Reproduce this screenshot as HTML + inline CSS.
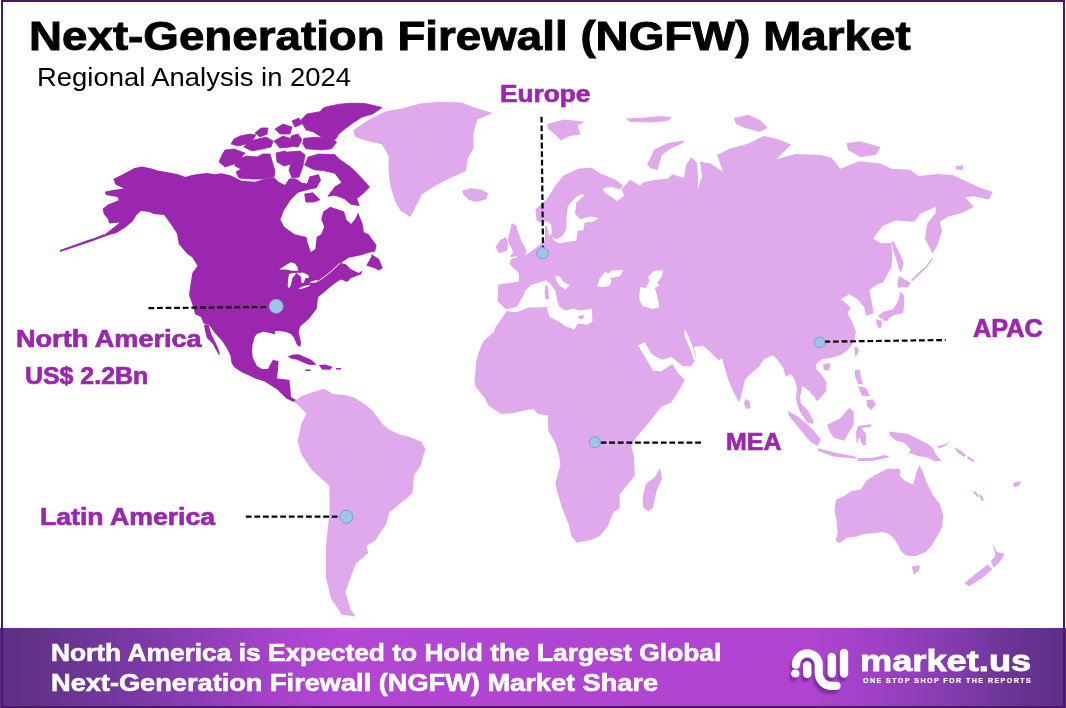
<!DOCTYPE html>
<html><head><meta charset="utf-8"><style>
html,body{margin:0;padding:0;}
body{width:1066px;height:708px;position:relative;overflow:hidden;background:#fff;font-family:"Liberation Sans",sans-serif;}
#frame{position:absolute;left:1px;top:0;width:1064px;height:708px;box-sizing:border-box;border:2px solid #4B1769;z-index:5;}
svg{position:absolute;left:0;top:0;}
.t{position:absolute;white-space:nowrap;line-height:1;transform-origin:0 0;}
.b{font-weight:bold;}
.p{color:#9B27AF;}
#banner{position:absolute;left:0;top:628px;width:1066px;height:80px;background:linear-gradient(90deg,#5B2F86 0%,#63338C 3.75%,#7D39A8 14%,#A843CC 26.3%,#B046D2 31%,#B044D0 76%,#9E41C5 82%,#853CB0 89%,#6A3496 95%,#5C2F87 100%);}
</style></head><body>
<div id="frame"></div>
<div id="banner"></div>
<svg width="1066" height="708" viewBox="0 0 1066 708">
<path fill="#9B27AF" d="M103.8,235.0 L113.3,227.8 L119.7,222.5 L109.1,223.6 L108.0,219.3 L103.8,214.0 L102.7,208.7 L108.0,204.5 L118.6,200.3 L117.6,197.1 L105.9,195.0 L104.8,191.8 L114.4,189.7 L123.9,188.6 L115.4,184.4 L113.3,179.1 L123.9,173.8 L134.5,167.9 L141.9,166.4 L151.5,168.5 L157.8,170.6 L170.5,172.7 L178.0,174.3 L185.4,177.0 L192.0,175.0 L200.0,173.8 L207.0,173.0 L215.0,174.3 L221.4,173.3 L230.9,175.4 L241.5,180.7 L255.3,181.7 L265.8,178.6 L274.3,177.5 L278.6,181.7 L284.9,184.9 L289.2,178.6 L295.5,178.6 L301.9,182.8 L307.0,183.6 L309.4,176.6 L318.6,174.3 L321.0,180.1 L316.3,188.2 L309.4,189.4 L297.8,192.8 L290.8,199.8 L283.9,210.2 L280.4,219.5 L284.1,226.7 L294.5,234.2 L306.4,237.1 L307.8,243.0 L310.8,252.0 L315.3,249.0 L316.7,237.1 L321.2,234.2 L324.2,226.7 L321.2,219.3 L323.3,211.4 L330.2,206.7 L344.1,211.4 L346.4,219.5 L351.1,224.1 L355.7,218.3 L358.0,212.5 L362.6,224.1 L363.8,232.0 L368.6,234.2 L372.7,240.0 L376.5,245.1 L375.2,251.4 L368.8,252.7 L361.2,255.3 L348.5,257.8 L340.9,262.9 L346.0,264.2 L351.0,269.2 L358.7,273.0 L362.5,270.5 L361.2,274.3 L351.0,278.1 L347.2,282.0 L340.9,279.4 L333.2,284.5 L325.6,290.9 L318.0,297.2 L316.7,308.7 L309.0,318.8 L300.2,326.5 L298.7,332.0 L300.0,338.0 L301.0,343.0 L300.3,347.0 L297.0,345.0 L294.0,338.0 L291.0,334.0 L286.0,332.0 L280.0,331.0 L275.0,331.0 L274.9,334.6 L270.0,333.0 L263.0,331.7 L257.0,334.0 L254.6,337.0 L252.5,345.0 L252.1,352.0 L252.9,358.0 L257.0,366.0 L262.0,369.0 L268.0,369.0 L271.0,363.0 L273.0,359.7 L278.5,361.3 L278.0,370.0 L277.0,378.4 L283.0,379.0 L289.4,380.0 L290.5,390.0 L291.0,397.0 L296.0,400.0 L301.8,403.2 L292.5,401.6 L286.3,398.5 L277.0,389.2 L270.0,385.0 L264.6,381.5 L255.2,378.4 L248.0,375.0 L241.3,372.1 L234.0,367.0 L231.5,363.0 L230.5,356.0 L227.5,349.5 L222.5,341.5 L214.8,333.0 L210.0,326.0 L203.6,323.6 L201.0,316.9 L195.1,314.3 L192.5,305.0 L189.0,294.7 L190.7,282.9 L192.4,272.7 L197.5,265.9 L192.4,257.5 L187.3,254.1 L178.8,243.9 L177.1,233.7 L170.3,223.6 L164.2,215.1 L153.6,214.0 L149.3,211.9 L140.9,210.9 L136.6,215.1 L132.4,221.5 L125.0,227.8 L116.5,233.1 L109.1,235.0 L90.0,242.0 L60.0,251.5 L60.0,250.0 L88.0,240.0ZM60.0,250.0 L90.0,240.0 L104.0,234.0 L104.0,236.0 L90.0,242.0 L60.0,252.0ZM204.0,325.0 L205.3,332.1 L206.9,338.0 L212.9,344.0 L215.4,349.1 L218.8,354.8 L220.0,354.0 L217.8,347.5 L214.5,340.5 L211.5,334.5 L209.8,329.0 L208.5,324.5ZM287.9,356.6 L293.0,354.6 L298.7,354.3 L305.0,357.0 L311.2,359.7 L316.6,364.4 L312.0,365.0 L308.0,364.4 L302.0,362.0 L297.2,359.7 L291.0,358.5ZM318.9,365.1 L325.0,364.6 L332.9,367.0 L330.0,369.8 L322.0,369.5ZM305.0,369.5 L311.0,369.5 L310.0,371.0 L305.5,371.0ZM336.0,368.0 L341.0,368.0 L341.0,369.5 L336.0,369.5ZM371.4,254.0 L379.0,259.0 L382.8,268.0 L379.0,270.5 L373.9,268.0 L366.3,265.4 L371.4,256.5Z"/>
<path fill="#fff" d="M279.2,269.4 L286.4,264.8 L291.0,262.2 L295.0,263.5 L297.6,267.5 L298.2,270.8 L291.7,270.8 L286.4,269.4ZM289.0,274.0 L293.6,272.7 L296.3,273.4 L292.3,278.0 L291.0,284.5 L289.0,288.5 L287.7,285.9 L288.1,280.0ZM296.3,272.7 L304.1,272.7 L308.7,275.4 L308.7,278.0 L305.5,278.0 L303.5,283.2 L301.5,282.6 L300.9,276.7ZM298.2,288.5 L304.1,285.9 L310.7,284.5 L308.7,286.5 L300.9,289.1ZM310.0,281.9 L316.0,280.0 L318.9,280.9 L316.0,282.6 L310.7,282.9ZM318.9,280.3 L330.0,272.0 L340.0,262.6 L340.5,263.3 L330.0,273.0 L318.9,281.2Z"/>
<path fill="#9B27AF" stroke="#9B27AF" stroke-width="0.8" stroke-linejoin="round" d="M300.6,120.2 L306.9,113.9 L319.7,111.8 L323.9,107.5 L337.7,104.4 L348.3,103.3 L364.2,103.3 L382.2,107.5 L372.6,113.9 L362.0,117.1 L353.6,122.4 L345.1,128.7 L338.7,134.0 L335.6,139.3 L321.8,137.2 L313.3,131.9 L305.9,129.8ZM303.8,138.3 L316.5,137.2 L332.4,138.3 L336.6,142.5 L331.3,148.8 L321.8,149.9 L305.9,148.8 L302.7,143.6ZM304.7,165.0 L308.2,157.0 L318.6,154.1 L334.8,154.6 L339.5,159.3 L351.1,167.4 L359.2,175.5 L369.6,187.1 L362.6,194.0 L356.8,198.6 L359.2,205.6 L351.1,204.4 L344.1,198.6 L334.8,195.2 L327.9,196.3 L334.8,187.1 L341.8,182.4 L334.8,173.2 L324.4,170.8 L314.0,169.7ZM304.7,194.0 L312.8,192.8 L319.8,199.8 L314.0,202.1 L305.9,202.1ZM219.0,162.0 L222.0,155.0 L225.0,150.0 L234.0,149.0 L245.0,153.0 L240.0,159.0 L234.0,164.0 L225.0,167.0ZM235.0,160.0 L247.0,156.0 L257.0,157.0 L263.0,154.0 L270.0,154.0 L272.0,161.0 L275.0,171.0 L274.0,177.0 L262.0,179.0 L251.0,179.0 L239.0,178.0 L236.0,172.0 L241.0,169.0 L235.0,166.0ZM231.0,144.0 L234.0,139.0 L240.0,136.0 L250.0,134.0 L256.0,135.0 L252.0,141.0 L246.0,144.0 L238.0,146.0ZM244.0,147.0 L250.0,141.0 L258.0,139.0 L266.0,137.0 L273.0,141.0 L271.0,147.0 L262.0,149.0 L252.0,151.0ZM255.0,133.0 L261.0,128.0 L268.0,128.0 L267.0,134.0 L260.0,137.0ZM274.0,141.0 L283.0,136.0 L292.0,139.0 L291.0,147.0 L280.0,148.0ZM275.0,129.0 L283.0,124.0 L292.0,127.0 L290.0,134.0 L280.0,134.0ZM276.0,153.0 L285.0,151.0 L292.0,155.0 L291.0,164.0 L284.0,166.0 L277.0,162.0ZM288.0,152.0 L300.0,151.0 L305.0,155.0 L303.0,166.0 L299.0,177.0 L292.0,178.0 L289.0,170.0 L292.0,161.0ZM291.0,136.0 L298.0,134.0 L302.0,140.0 L298.0,147.0 L291.0,146.0ZM292.0,121.0 L299.0,118.0 L302.0,124.0 L295.0,127.0Z"/>
<path fill="#DFA9EC" d="M353.3,130.3 L368.6,119.8 L385.8,111.2 L402.9,108.3 L420.1,103.6 L439.2,101.7 L462.0,102.6 L471.6,106.4 L492.6,113.1 L477.3,119.8 L473.5,133.1 L473.5,148.4 L467.8,157.9 L465.9,171.3 L452.5,177.0 L437.3,184.6 L422.0,194.2 L416.3,205.6 L410.6,217.0 L401.0,211.3 L395.3,201.8 L390.5,186.5 L388.6,171.3 L388.6,156.0 L382.0,144.6 L366.7,140.8 L355.3,137.0ZM462.2,190.7 L470.9,188.2 L480.9,189.5 L488.4,193.2 L485.9,199.4 L475.9,201.9 L468.4,199.4 L463.4,194.5ZM294.1,401.2 L302.0,396.0 L311.8,392.4 L324.1,388.8 L333.0,394.1 L344.0,395.0 L354.1,397.6 L363.0,403.0 L371.8,410.0 L382.4,424.1 L390.0,430.0 L400.0,434.7 L410.0,437.0 L421.2,441.8 L425.4,448.8 L423.0,457.0 L421.2,464.7 L414.1,475.3 L412.4,493.0 L406.0,499.0 L400.0,503.5 L389.4,512.4 L385.9,524.7 L380.0,533.0 L375.3,540.6 L366.5,545.9 L368.2,553.0 L355.9,563.5 L350.6,577.7 L345.3,591.8 L350.6,609.4 L355.9,616.5 L341.8,614.7 L331.2,598.8 L325.9,577.7 L325.9,545.9 L329.4,514.1 L329.4,485.9 L311.8,470.0 L301.2,454.1 L297.6,441.8 L301.2,424.1 L306.5,413.5ZM507.4,309.5 L505.0,308.5 L497.5,301.0 L498.3,284.5 L510.0,283.0 L519.3,281.5 L518.5,272.5 L509.5,264.3 L511.0,259.0 L520.0,256.0 L524.0,256.0 L532.5,250.4 L539.6,244.8 L545.0,240.0 L545.0,221.0 L549.0,222.0 L552.3,233.5 L548.0,220.7 L542.4,223.6 L536.7,220.7 L535.3,209.4 L546.6,199.6 L556.5,184.0 L563.6,175.5 L579.1,168.5 L591.8,167.8 L598.9,172.7 L615.8,179.8 L622.9,185.4 L617.2,193.9 L630.0,179.8 L640.0,185.4 L643.0,182.6 L655.0,180.0 L668.0,178.4 L672.4,174.2 L684.0,178.0 L686.0,165.0 L691.4,157.2 L697.0,163.0 L698.0,175.0 L697.8,189.0 L702.0,176.3 L699.9,161.4 L710.5,163.6 L723.2,172.0 L716.9,155.1 L729.6,148.7 L748.6,143.4 L763.5,136.0 L778.3,139.2 L791.0,144.5 L776.2,159.3 L795.3,154.0 L820.7,155.1 L831.8,158.1 L840.3,168.7 L859.3,161.3 L880.5,163.4 L891.1,168.7 L910.2,169.8 L918.6,176.1 L937.7,174.0 L952.5,175.1 L980.1,187.8 L992.8,192.0 L988.6,199.4 L973.7,196.3 L965.3,197.3 L973.7,206.9 L961.0,213.2 L948.3,216.4 L939.8,221.7 L942.0,230.2 L937.7,245.0 L932.4,253.5 L925.0,238.6 L927.1,223.8 L935.6,213.2 L935.6,206.9 L920.8,213.2 L914.4,221.7 L895.3,220.6 L882.6,225.9 L873.1,238.6 L880.5,242.9 L891.1,242.9 L892.4,253.6 L891.5,267.1 L883.0,282.4 L877.0,284.4 L870.2,289.5 L869.3,290.3 L872.7,307.3 L873.6,313.2 L865.9,315.8 L864.2,307.3 L860.0,302.2 L857.6,299.3 L849.2,294.2 L840.7,299.3 L847.5,304.4 L850.8,307.8 L847.5,312.9 L852.5,323.1 L855.9,331.5 L854.2,341.7 L847.5,350.2 L840.4,355.2 L831.5,357.8 L822.6,359.1 L816.2,364.1 L816.2,369.2 L821.3,374.3 L826.4,381.9 L826.4,390.8 L818.8,399.7 L816.2,401.0 L815.0,397.2 L808.6,390.8 L802.3,385.7 L800.0,397.0 L801.0,403.5 L808.6,411.2 L813.7,421.3 L812.4,423.9 L807.3,422.6 L799.7,411.2 L797.2,403.5 L795.9,398.5 L797.2,388.3 L794.6,379.4 L790.8,374.3 L785.7,376.8 L783.2,368.0 L776.8,359.1 L773.0,355.2 L764.1,359.1 L759.1,366.7 L751.4,373.0 L745.1,379.4 L740.0,399.7 L739.2,402.4 L733.5,392.2 L727.8,378.6 L723.3,362.8 L722.2,358.3 L718.8,360.5 L714.3,356.0 L708.6,350.4 L703.0,345.8 L693.9,347.0 L696.2,358.3 L691.7,366.2 L682.6,366.2 L671.3,357.1 L660.0,362.0 L640.0,360.0 L610.0,340.0 L595.0,326.0 L592.0,323.5 L578.6,320.5 L574.0,315.0 L565.0,311.5 L556.0,305.5 L551.0,307.5 L540.0,307.0 L525.0,308.5 L516.0,312.0ZM507.4,310.3 L520.9,308.6 L546.4,306.9 L549.7,317.0 L563.3,323.8 L574.0,329.5 L578.6,322.0 L592.1,322.0 L600.0,330.0 L640.0,345.0 L660.0,372.0 L672.4,363.9 L678.1,373.0 L684.9,379.8 L679.2,389.9 L671.3,402.4 L661.7,406.4 L654.9,414.9 L648.1,423.4 L638.0,435.3 L634.6,440.0 L631.5,446.8 L634.0,457.0 L634.9,475.6 L628.1,484.1 L619.7,494.2 L619.7,507.8 L612.9,512.9 L607.8,526.4 L599.3,536.6 L590.8,540.0 L576.4,542.5 L571.4,536.6 L568.8,524.7 L562.0,507.8 L557.0,490.8 L555.3,482.4 L556.2,480.0 L560.4,464.8 L559.0,454.9 L554.8,442.2 L548.4,430.9 L547.7,415.3 L537.8,413.9 L533.6,409.0 L523.7,410.4 L512.4,413.2 L501.1,413.9 L488.4,405.4 L484.1,397.0 L475.7,387.1 L474.3,381.4 L475.2,374.7 L476.0,362.8 L478.6,352.6 L483.6,340.8 L493.8,332.3 L495.5,327.2 L501.4,318.7ZM660.0,468.0 L662.0,479.0 L657.0,489.2 L652.7,507.8 L648.5,511.2 L643.4,507.8 L642.5,497.6 L645.9,484.1 L655.3,476.4ZM511.8,223.2 L516.0,225.0 L518.1,231.7 L521.0,240.0 L526.6,250.8 L524.5,257.1 L516.0,256.5 L509.7,257.1 L513.0,252.0 L511.8,248.6 L507.5,240.2 L509.7,231.7ZM500.0,240.0 L506.0,237.0 L508.0,244.0 L507.0,251.0 L499.0,253.0 L495.5,247.0ZM547.5,124.0 L564.0,119.5 L585.0,121.8 L577.5,125.5 L580.5,134.5 L570.0,136.0 L561.0,140.5 L553.5,133.0 L547.5,128.5ZM647.0,163.6 L649.6,160.0 L654.0,149.5 L668.0,143.0 L684.0,140.5 L683.0,143.0 L670.0,149.0 L661.8,155.1 L657.5,169.9 L650.0,168.0ZM733.8,118.0 L748.0,114.8 L760.0,120.0 L767.7,128.0 L760.0,131.8 L745.0,128.0 L736.0,124.0ZM626.0,118.5 L645.0,117.5 L660.0,116.0 L672.0,117.0 L668.0,121.0 L650.0,122.5 L630.0,122.0ZM846.6,143.0 L860.0,141.2 L880.5,147.0 L876.0,155.0 L860.0,157.0 L848.0,150.0ZM955.7,166.0 L963.1,165.5 L963.0,169.8 L956.0,169.5ZM891.6,240.8 L894.0,242.0 L899.0,252.0 L903.5,262.6 L902.5,268.0 L900.5,272.5 L898.0,266.0 L896.6,260.6 L892.6,248.8ZM911.0,280.0 L918.0,273.0 L926.0,266.0 L932.0,258.0 L933.0,259.0 L927.0,267.0 L919.0,275.0 L912.0,281.5ZM899.0,275.9 L904.1,279.3 L910.8,282.7 L907.5,287.8 L902.4,286.9 L898.1,287.8 L897.3,284.4ZM899.8,291.2 L904.1,295.4 L904.1,305.6 L903.2,313.2 L893.9,314.9 L890.5,317.5 L885.4,319.2 L880.3,318.3 L877.8,315.8 L883.7,311.5 L892.2,309.8 L895.6,305.6 L899.0,298.8ZM876.1,319.2 L882.0,320.8 L881.2,327.6 L878.6,328.5 L876.1,322.5ZM882.9,318.0 L888.8,317.5 L888.0,320.8 L883.0,320.8ZM854.2,346.8 L858.0,347.4 L858.5,352.0 L855.5,357.0ZM823.0,364.0 L830.4,363.3 L829.0,370.7 L824.0,370.0ZM745.0,399.0 L749.5,401.0 L750.6,408.0 L746.0,409.0 L744.0,404.0ZM788.0,411.0 L797.6,416.3 L812.4,429.0 L820.9,439.6 L817.7,446.0 L810.3,441.7 L799.7,429.0 L789.1,416.3ZM817.7,448.1 L833.6,452.3 L854.8,456.6 L856.9,458.7 L833.6,456.6 L818.8,451.3ZM827.2,424.8 L840.0,418.4 L849.5,407.8 L853.7,412.1 L853.7,424.8 L848.4,433.3 L844.2,440.7 L833.6,437.5 L829.3,431.1ZM858.0,425.9 L871.5,424.2 L870.4,427.0 L861.4,428.1 L865.9,433.8 L865.9,445.0 L862.5,445.0 L859.1,437.1 L856.9,445.0 L855.8,432.6ZM854.8,369.7 L860.0,370.0 L861.0,378.0 L863.3,384.5 L858.0,384.0 L855.0,376.0ZM866.4,400.0 L873.0,399.3 L876.0,405.0 L871.0,410.0 L867.0,406.0ZM858.0,386.0 L866.0,388.0 L870.0,396.0 L862.0,396.0ZM889.5,431.5 L897.4,432.6 L907.5,433.8 L918.8,439.4 L927.8,443.9 L933.4,448.4 L935.7,454.0 L941.3,460.8 L935.7,461.4 L927.8,457.4 L918.8,456.3 L909.8,452.9 L907.5,455.2 L910.9,449.5 L904.2,442.8 L896.3,440.5 L892.9,438.3 L889.5,434.9ZM936.8,446.2 L945.8,443.9 L949.2,441.7 L946.9,445.0 L939.0,448.4ZM858.0,458.0 L872.0,458.0 L885.0,455.0 L890.0,457.0 L872.0,461.0 L858.0,461.0ZM835.8,499.9 L846.0,495.0 L851.0,491.0 L860.7,489.6 L866.6,480.5 L876.0,474.5 L887.8,468.4 L900.3,469.2 L900.0,476.0 L905.0,481.0 L913.0,484.5 L917.2,470.4 L919.5,465.2 L923.0,472.0 L926.3,481.7 L933.1,495.2 L939.9,504.3 L943.2,515.6 L942.1,526.9 L938.0,535.0 L932.0,545.0 L926.0,552.0 L915.0,556.3 L906.0,555.5 L901.0,551.0 L898.0,545.0 L893.5,538.0 L888.0,533.5 L882.0,532.0 L875.0,533.3 L865.0,533.8 L856.0,536.8 L847.0,537.4 L839.2,543.3 L835.8,540.5 L837.5,533.0 L837.0,524.0 L834.5,510.0ZM911.6,566.5 L919.5,565.3 L919.5,569.9 L913.8,574.4ZM992.4,542.9 L997.0,552.2 L1004.8,553.7 L1000.1,561.5 L993.9,567.7 L990.8,561.5 L995.5,555.3ZM964.4,583.2 L975.3,573.9 L987.7,564.6 L992.4,569.3 L981.5,578.6 L969.1,586.3ZM954.0,447.0 L960.0,450.0 L966.0,455.0 L964.0,457.0 L957.0,452.0ZM968.0,456.0 L975.0,461.0 L973.0,462.0 L967.0,458.0ZM979.0,494.0 L982.0,496.0 L984.0,501.0 L981.0,500.0ZM975.0,491.0 L979.0,496.0 L977.0,497.0 L973.0,492.0ZM1013.0,483.0 L1021.0,481.0 L1019.0,486.0 L1014.0,487.0Z"/>
<path fill="#fff" d="M506.6,309.5 L516.9,306.7 L522.5,297.3 L525.3,290.8 L531.0,285.1 L539.4,282.3 L546.0,280.4 L550.7,284.2 L555.3,290.8 L557.2,300.1 L559.1,306.7 L565.7,310.5 L573.2,308.6 L579.7,310.5 L587.2,309.5 L591.9,308.6 L592.4,321.7 L587.2,324.5 L576.9,323.6 L575.0,329.2 L565.7,326.4 L558.2,320.8 L550.7,317.0 L551.6,309.5 L550.7,306.7 L537.5,307.2 L528.1,307.6 L516.9,312.3 L508.4,311.4ZM555.3,275.8 L560.0,276.7 L563.8,282.3 L569.4,285.1 L565.7,289.4 L560.0,286.1 L556.3,280.4ZM597.3,286.4 L599.5,279.0 L605.2,271.7 L609.7,274.5 L611.4,281.3 L609.7,285.8 L604.1,287.0ZM607.5,274.0 L612.0,270.5 L623.3,270.0 L620.0,276.0 L612.0,277.9ZM639.1,298.2 L640.2,287.0 L645.9,288.1 L649.3,281.3 L648.1,276.8 L653.8,271.1 L663.4,270.0 L661.7,276.8 L657.2,282.4 L659.4,285.8 L654.9,288.1 L657.2,296.0 L659.4,307.3 L652.7,309.0 L642.5,306.2ZM638.0,345.4 L644.7,342.0 L651.5,353.9 L661.7,359.8 L668.5,358.1 L671.3,357.1 L682.6,366.2 L691.7,366.2 L696.2,358.3 L700.0,360.0 L700.0,385.0 L684.9,379.8 L678.1,373.0 L672.4,363.9 L668.5,364.0 L661.7,370.8 L653.2,370.8 L648.0,362.0ZM685.5,330.0 L689.0,338.0 L692.5,346.0 L695.0,355.0 L696.2,360.0 L693.5,360.0 L691.5,352.0 L688.0,344.0 L684.5,336.0 L684.5,330.0ZM556.5,239.1 L562.2,236.3 L566.4,229.2 L566.4,219.3 L567.8,206.6 L576.3,196.7 L581.9,193.9 L584.8,195.3 L576.3,202.4 L574.9,213.7 L580.5,219.3 L590.4,216.5 L598.9,217.9 L591.8,222.2 L584.8,222.2 L583.3,230.6 L577.7,230.6 L576.3,240.5 L567.8,241.9 L559.3,243.3 L553.7,240.5 L552.0,237.0ZM537.0,223.0 L546.0,221.5 L551.0,224.0 L552.0,233.0 L549.0,236.0 L547.0,226.0 L543.0,226.0ZM603.0,188.0 L612.0,187.0 L622.0,190.0 L624.0,196.0 L617.0,201.0 L610.0,196.0 L604.0,192.0Z"/>
<path fill="#DFA9EC" d="M545.5,285.5 L547.5,285.0 L548.5,292.0 L549.0,299.0 L545.5,299.5 L544.5,292.0ZM578.0,316.0 L584.4,315.0 L583.0,319.0 L579.0,319.0Z"/>
<path d="M541.5,116.8 L543,247.5" stroke="#000" stroke-width="2.2" stroke-dasharray="5.8 2.8" fill="none"/>
<path d="M148.4,308.1 L268,307" stroke="#000" stroke-width="2.2" stroke-dasharray="5.8 2.8" fill="none"/>
<path d="M245.8,516.7 L339.6,516.7" stroke="#000" stroke-width="2.2" stroke-dasharray="5.8 2.8" fill="none"/>
<path d="M600.6,442.7 L703.4,442.7" stroke="#000" stroke-width="2.2" stroke-dasharray="5.8 2.8" fill="none"/>
<path d="M824.4,341.7 L945.7,340" stroke="#000" stroke-width="2.2" stroke-dasharray="5.8 2.8" fill="none"/>
<circle cx="542.6" cy="253.2" r="5.7" fill="#A0C4E8" stroke="#6FA3D8" stroke-width="1"/>
<circle cx="276.2" cy="306.3" r="7.0" fill="#A0C4E8" stroke="#6FA3D8" stroke-width="1"/>
<circle cx="346.4" cy="516.7" r="6.6" fill="#A0C4E8" stroke="#6FA3D8" stroke-width="1"/>
<circle cx="594.9" cy="442.3" r="5.6" fill="#A0C4E8" stroke="#6FA3D8" stroke-width="1"/>
<circle cx="819.6" cy="342.4" r="5.4" fill="#A0C4E8" stroke="#6FA3D8" stroke-width="1"/>
<filter id="sh" x="-20%" y="-20%" width="140%" height="160%"><feGaussianBlur stdDeviation="1.2"/></filter>
<g transform="translate(-2,4)" opacity="0.55" filter="url(#sh)"><circle cx="795.3" cy="673.5" r="4.1" fill="#5A1F7A"/><path d="M795.9,664.8 A11.4,11.4 0 0 1 818.7,664.8 L818.7,673 A12.8,12.8 0 0 0 831.5,685.8 L836.5,685.8" stroke="#5A1F7A" stroke-width="8.2" fill="none" stroke-linecap="round"/><path d="M807.2,665.5 L807.2,673.9 M831.7,657 L831.7,673.5 M844,653 L844,673.5" stroke="#5A1F7A" stroke-width="8.4" fill="none" stroke-linecap="round"/></g>
<circle cx="795.3" cy="673.5" r="4.1" fill="#fff"/><path d="M795.9,664.8 A11.4,11.4 0 0 1 818.7,664.8 L818.7,673 A12.8,12.8 0 0 0 831.5,685.8 L836.5,685.8" stroke="#fff" stroke-width="8.2" fill="none" stroke-linecap="round"/><path d="M807.2,665.5 L807.2,673.9 M831.7,657 L831.7,673.5 M844,653 L844,673.5" stroke="#fff" stroke-width="8.4" fill="none" stroke-linecap="round"/>
</svg>
<div class="t" style="left:29.20px;top:15.33px;font-size:41.45px;font-weight:bold;color:#000;-webkit-text-stroke:0.9px #000;letter-spacing:0em;transform:scaleX(1.1035)">Next-Generation Firewall (NGFW) Market</div>
<div class="t" style="left:36.71px;top:64.74px;font-size:24.93px;font-weight:normal;color:#000;-webkit-text-stroke:0px #000;letter-spacing:0em;transform:scaleX(1.1002)">Regional Analysis in 2024</div>
<div class="t" style="left:500.07px;top:81.59px;font-size:23.91px;font-weight:bold;color:#9B27AF;-webkit-text-stroke:0.7px #9B27AF;letter-spacing:0em;transform:scaleX(1.0955)">Europe</div>
<div class="t" style="left:15.85px;top:326.53px;font-size:24.35px;font-weight:bold;color:#9B27AF;-webkit-text-stroke:0.7px #9B27AF;letter-spacing:0em;transform:scaleX(1.1127)">North America</div>
<div class="t" style="left:25.10px;top:363.67px;font-size:24.06px;font-weight:bold;color:#9B27AF;-webkit-text-stroke:0.7px #9B27AF;letter-spacing:0em;transform:scaleX(1.0357)">US$ 2.2Bn</div>
<div class="t" style="left:40.24px;top:505.30px;font-size:24.49px;font-weight:bold;color:#9B27AF;-webkit-text-stroke:0.7px #9B27AF;letter-spacing:0em;transform:scaleX(1.0875)">Latin America</div>
<div class="t" style="left:725.95px;top:430.30px;font-size:24.49px;font-weight:bold;color:#9B27AF;-webkit-text-stroke:0.7px #9B27AF;letter-spacing:0em;transform:scaleX(1.0188)">MEA</div>
<div class="t" style="left:972.84px;top:315.59px;font-size:24.93px;font-weight:bold;color:#9B27AF;-webkit-text-stroke:0.7px #9B27AF;letter-spacing:0em;transform:scaleX(1.0148)">APAC</div>
<div class="t" style="left:50.96px;top:641.27px;font-size:24.06px;font-weight:bold;color:#fff;-webkit-text-stroke:0.6px #fff;letter-spacing:0em;transform:scaleX(1.0944)">North America is Expected to Hold the Largest Global</div>
<div class="t" style="left:50.90px;top:671.27px;font-size:24.06px;font-weight:bold;color:#fff;-webkit-text-stroke:0.6px #fff;letter-spacing:0em;transform:scaleX(1.1303)">Next-Generation Firewall (NGFW) Market Share</div>
<div class="t" style="left:860.26px;top:646.63px;font-size:28.84px;font-weight:bold;color:#fff;-webkit-text-stroke:0.8px #fff;letter-spacing:0em;transform:scaleX(1.2568)">market.us</div>
<div class="t" style="left:862.52px;top:677.38px;font-size:7.25px;font-weight:bold;color:#fff;-webkit-text-stroke:0.2px #fff;letter-spacing:0.2em;transform:scaleX(0.9804)">ONE STOP SHOP FOR THE REPORTS</div>
</body></html>
